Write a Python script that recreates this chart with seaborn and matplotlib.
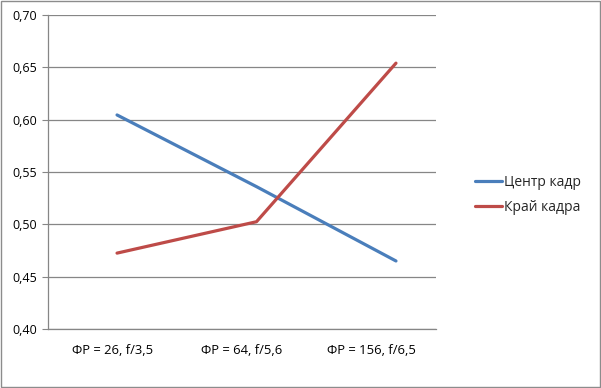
import numpy as np
import pandas as pd
import matplotlib
matplotlib.use("Agg")
import matplotlib.pyplot as plt
import seaborn as sns
from matplotlib.ticker import FuncFormatter

# data
categories = ["ФР = 26, f/3,5", "ФР = 64, f/5,6", "ФР = 156, f/6,5"]
center = [0.6045, 0.536, 0.465]
edge = [0.4725, 0.5025, 0.654]
series_names = ["Центр кадр", "Край кадра"]

df = pd.DataFrame({
    "value": center + edge,
    "series": [series_names[0]] * 3 + [series_names[1]] * 3,
})
df["x"] = list(range(3)) * 2

sns.set_style("white")
plt.rcParams["font.family"] = ["Open Sans", "DejaVu Sans"]

fig = plt.figure(figsize=(6.01, 3.88), dpi=100)
ax = fig.add_axes([48 / 601, 1 - 329 / 388, 388 / 601, 314 / 388])

sns.lineplot(data=df, x="x", y="value", hue="series",
             palette=["#4A7EBB", "#BE4B48"], linewidth=2.3, ax=ax)

# in the source chart the lines sit a bit right of the category centres
xlim = (-0.495, 2.287)
ax.set_xlim(*xlim)
bounds = np.linspace(xlim[0], xlim[1], len(categories) + 1)
ax.set_xticks((bounds[:-1] + bounds[1:]) / 2)
ax.set_xticklabels(categories)
ax.set_xticks(bounds, minor=True)

ax.set_ylim(0.40, 0.70)
ax.set_yticks([0.40, 0.45, 0.50, 0.55, 0.60, 0.65, 0.70])
ax.yaxis.set_major_formatter(FuncFormatter(lambda v, p: f"{v:.2f}".replace(".", ",")))

ax.tick_params(axis="x", which="major", length=0, labelsize=9.4, pad=11, colors="#000000")
ax.tick_params(axis="x", which="minor", length=4, color="#868686", direction="out")
ax.tick_params(axis="y", length=4, color="#868686", labelsize=9, pad=4,
               left=True, direction="out", labelcolor="#000000")
ax.grid(axis="y", color="#868686", linewidth=0.9)
ax.set_xlabel("")
ax.set_ylabel("")
for s in ["top", "right"]:
    ax.spines[s].set_visible(False)
for s in ["left", "bottom"]:
    ax.spines[s].set_color("#868686")
    ax.spines[s].set_linewidth(0.9)

ax.legend(loc="center left", bbox_to_anchor=(1.10, 0.427), frameon=False,
          fontsize=10, handlelength=1.95, handletextpad=0.15, labelspacing=0.75,
          borderpad=0, borderaxespad=0)

# outer border like the reference
fig.patches.append(plt.Rectangle((0.001, 0.002), 0.997, 0.996, transform=fig.transFigure,
                                 fill=False, edgecolor="#8c8c8c", linewidth=1))

fig.savefig("out.png", dpi=100)
